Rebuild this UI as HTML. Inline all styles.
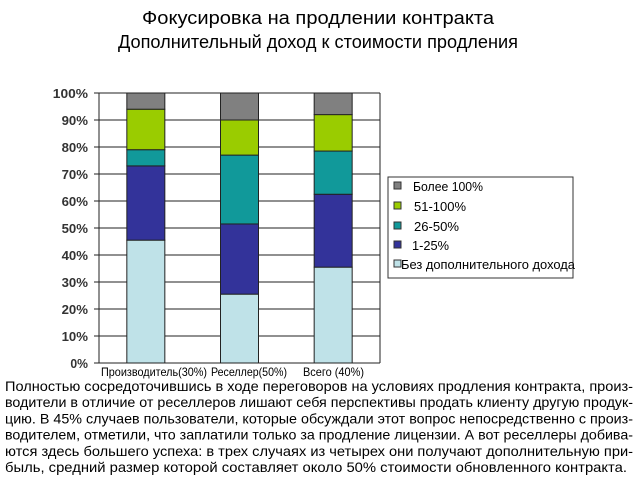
<!DOCTYPE html>
<html><head><meta charset="utf-8"><style>
html,body{margin:0;padding:0;background:#fff;width:640px;height:485px;overflow:hidden}
svg{display:block;font-family:"Liberation Sans",sans-serif}
</style></head><body>
<svg id="c" width="640" height="485">
<text x="318" y="24" text-anchor="middle" font-size="18" textLength="352" lengthAdjust="spacingAndGlyphs">Фокусировка на продлении контракта</text>
<text x="318" y="48" text-anchor="middle" font-size="18" textLength="400" lengthAdjust="spacingAndGlyphs">Дополнительный доход к стоимости продления</text>
<g id="plot"></g>
<g id="legend"></g>
<g id="body" font-size="14"></g>
</svg>
<script>
const categories=["Производитель(30%)","Реселлер(50%)","Всего (40%)"];
const seriesNames=["Без дополнительного дохода","1-25%","26-50%","51-100%","Более 100%"];
const s0=[45.5,25.5,35.5];
const s1=[27.5,26,27];
const s2=[6,25.5,16];
const s3=[15,13,13.5];
const s4=[6,10,8];
const colors=["#bfe2e8","#33339a","#11999a","#9acc00","#808080"];
const ticks=[0,10,20,30,40,50,60,70,80,90,100];
const series=[s0,s1,s2,s3,s4];
const NS="http://www.w3.org/2000/svg";
const X0=99,X1=380,Y0=363,Y1=93;
const y=v=>Y0-(v/100)*(Y0-Y1);
const bw=38;
const xc=i=>X0+(X1-X0)*(i+0.5)/categories.length;
const labelStart=[101,211,303], labelW=[106,76,61];
function mk(t,a,p){const e=document.createElementNS(NS,t);for(const k in a)e.setAttribute(k,a[k]);p.appendChild(e);return e;}
const plot=document.getElementById('plot');
ticks.forEach(t=>{
 const l=mk('line',{x1:X0-5,x2:X1,y1:y(t),y2:y(t),stroke:'#222','stroke-width':1},plot);
 
 
 const s=t+'%';
 const tx=mk('text',{x:88,y:y(t)+5,'text-anchor':'end','font-size':13,'font-weight':'bold',fill:'#333',textLength:s.length*8.8,lengthAdjust:'spacingAndGlyphs'},plot);
 tx.textContent=s;
 
 
});
const ax=mk('line',{x1:X0,x2:X0,y1:Y1,y2:Y0,stroke:'#222'},plot);


const rb=mk('line',{x1:X1,x2:X1,y1:Y1,y2:Y0,stroke:'#222'},plot);


categories.forEach((c,i)=>{
 let acc=0;
 series.forEach((s,k)=>{
  const r=mk('rect',{x:xc(i)-bw/2,y:y(acc+s[i]),width:bw,height:y(acc)-y(acc+s[i]),fill:colors[k],stroke:'#222','stroke-width':1},plot);
  
  
  acc+=s[i];
 });
 const t=mk('text',{x:labelStart[i],y:Y0+13,'font-size':12,textLength:labelW[i],lengthAdjust:'spacingAndGlyphs'},plot);
 t.textContent=c;
 
 
});
const lg=document.getElementById('legend');
const box=mk('rect',{x:388,y:177,width:185,height:101,fill:'#fff',stroke:'#333'},lg);


const ly=[189,209,229,248,267],lx=[413,414,414,412,397],lw=[70,52,45,37,178];
[4,3,2,1,0].forEach((k,j)=>{
 const r=mk('rect',{x:394,y:ly[j]-7,width:7,height:7,fill:colors[k],stroke:'#333'},lg);
 
 
 const t=mk('text',{x:lx[j]+(k===0?4:0),y:ly[j]+2,'font-size':13,textLength:lw[j]-(k===0?4:0),lengthAdjust:'spacingAndGlyphs'},lg);
 t.textContent=seriesNames[k];
 
 
});
const lines=["Полностью сосредоточившись в ходе переговоров на условиях продления контракта, произ-",
"водители в отличие от реселлеров лишают себя перспективы продать клиенту другую продук-",
"цию. В 45% случаев пользователи, которые обсуждали этот вопрос непосредственно с произ-",
"водителем, отметили, что заплатили только за продление лицензии. А вот реселлеры добива-",
"ются здесь большего успеха: в трех случаях из четырех они получают дополнительную при-",
"быль, средний размер которой составляет около 50% стоимости обновленного контракта."];
const widths=[628,628,628,628,628,622];
const body=document.getElementById('body');
lines.forEach((s,i)=>{
 const t=mk('text',{x:5,y:391+i*16.2,textLength:widths[i],lengthAdjust:'spacingAndGlyphs'},body);
 t.textContent=s;
 
 
});
</script>
</body></html>
